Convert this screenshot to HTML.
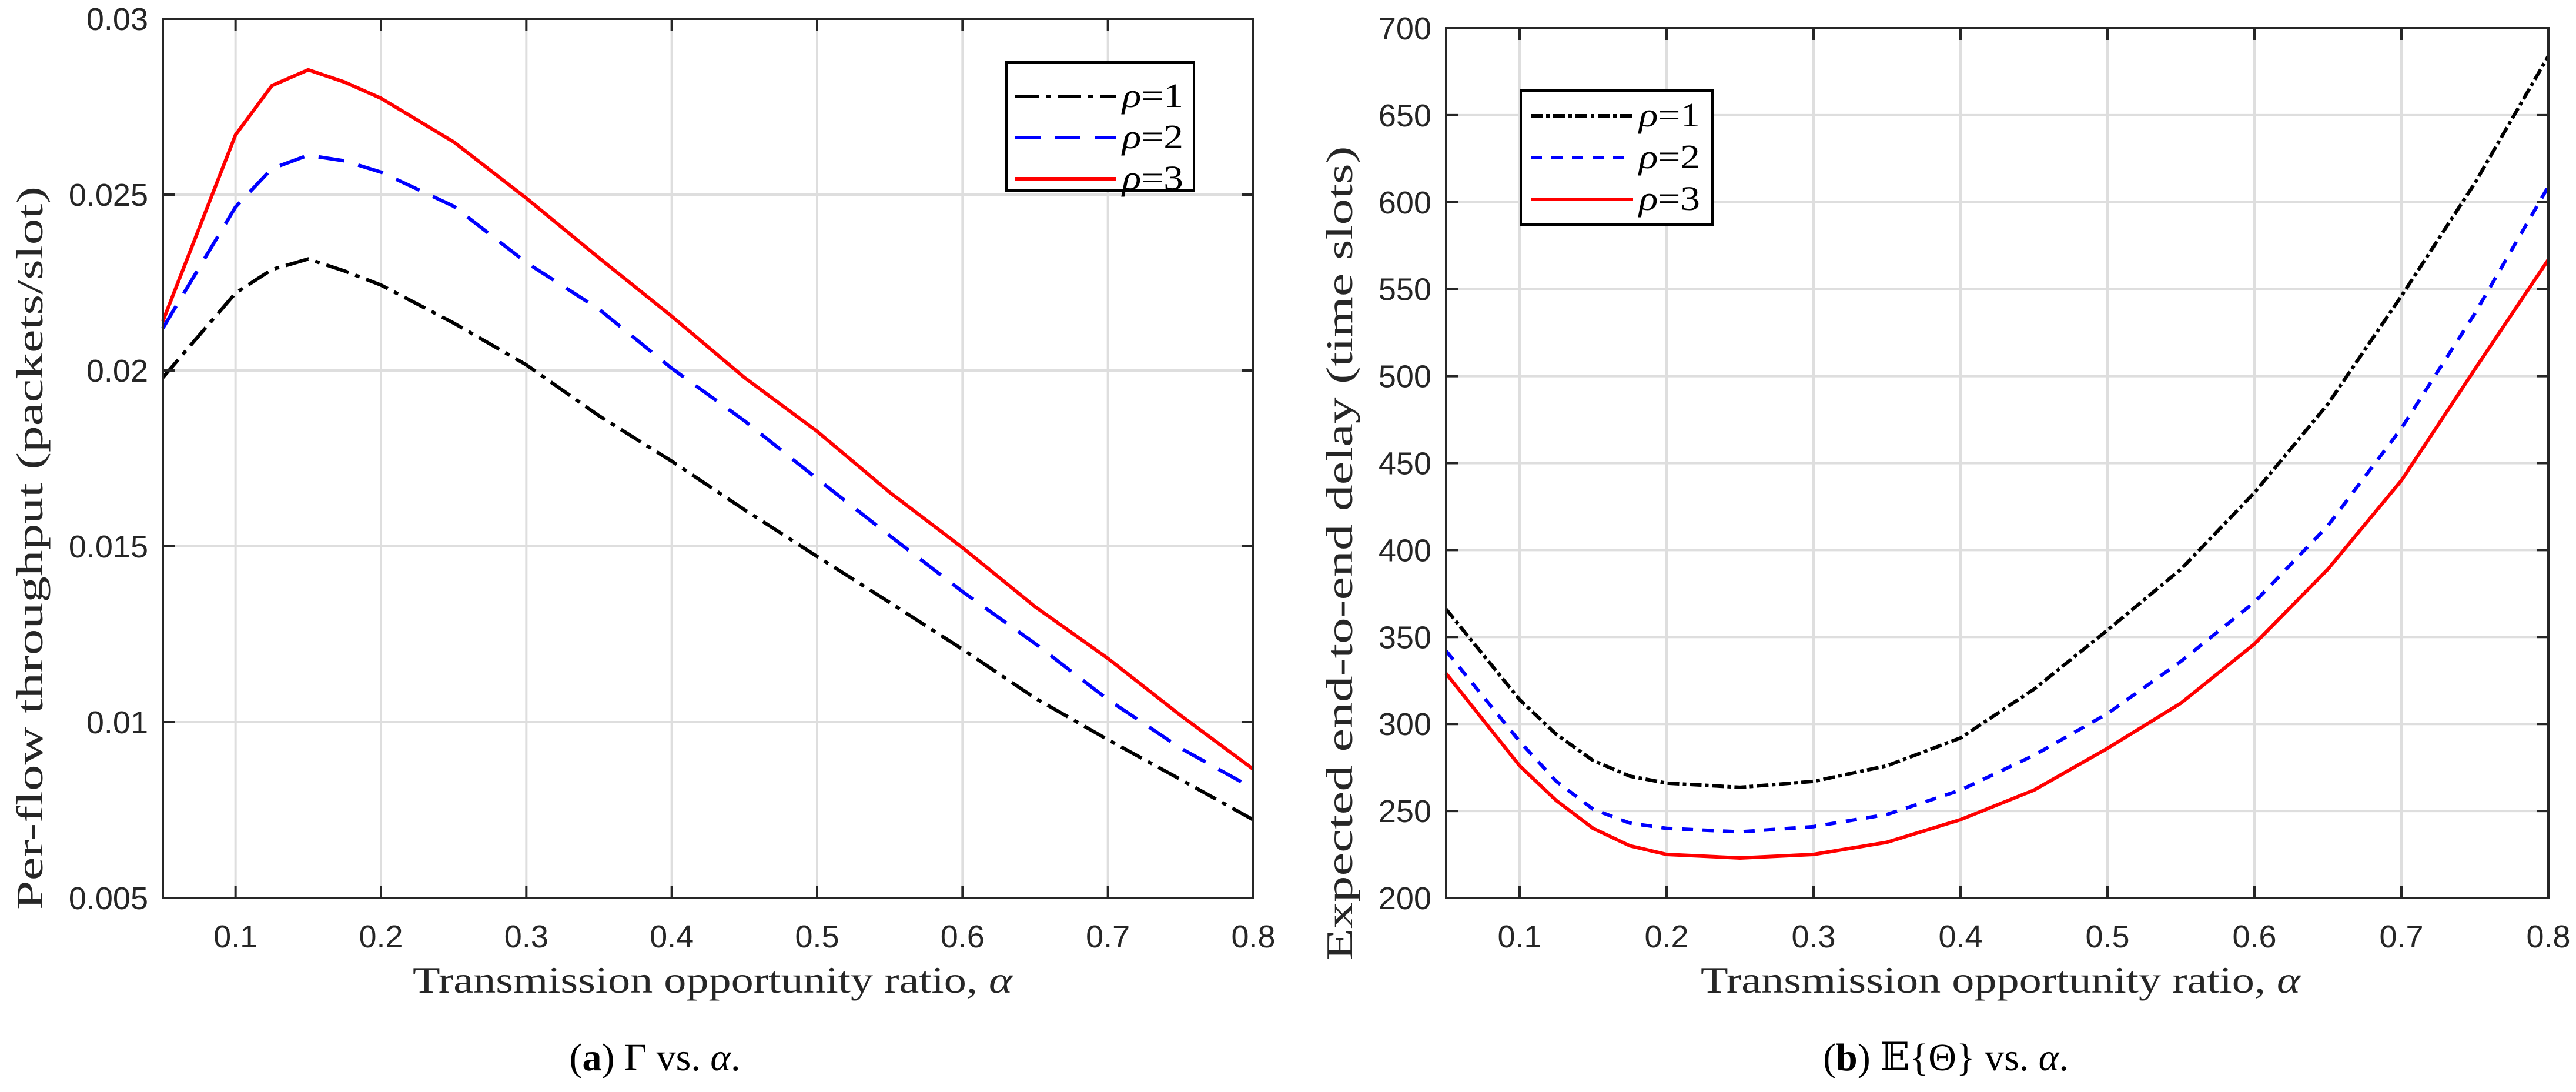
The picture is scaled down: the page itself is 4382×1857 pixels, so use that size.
<!DOCTYPE html>
<html><head><meta charset="utf-8"><style>
html,body{margin:0;padding:0;background:#fff;}
svg{display:block;}
.tick{font-family:"Liberation Sans",Arial,sans-serif;font-size:54px;fill:#262626;}
.lab{font-family:"Liberation Serif","DejaVu Serif",serif;font-size:64px;fill:#262626;}
.leg{font-family:"Liberation Serif","DejaVu Serif",serif;font-size:58px;fill:#000;}
.cap{font-family:"Liberation Serif","DejaVu Serif",serif;font-size:66px;fill:#000;}
</style></head><body>
<svg id="fig" width="4382" height="1857" viewBox="0 0 4382 1857" xmlns="http://www.w3.org/2000/svg"></svg>
<script>
const alphas = [0.05,0.1,0.125,0.15,0.175,0.2,0.25,0.3,0.35,0.4,0.45,0.5,0.55,0.6,0.65,0.7,0.75,0.8];
const thrRho1 = [0.0198,0.0222,0.02287,0.02317,0.02283,0.02243,0.02135,0.02016,0.01871,0.01742,0.01604,0.01471,0.0134,0.01207,0.01068,0.0095,0.00837,0.00722];
const thrRho2 = [0.0212,0.02465,0.02574,0.02612,0.02596,0.02564,0.02467,0.02307,0.02174,0.02006,0.01857,0.01692,0.0153,0.01371,0.01223,0.01064,0.00926,0.00811];
const thrRho3 = [0.0214,0.0267,0.0281,0.02855,0.0282,0.02774,0.0265,0.0249,0.0232,0.02154,0.0198,0.01827,0.01653,0.01496,0.01328,0.01181,0.01019,0.00866];
const delRho1 = [366,314,294,279,270,266,263.6,267,276,292,320,354,389,433,484,546,611,684];
const delRho2 = [342,290,267,251,243,240,238,241,248,262,282,306,336,370,414,470,536,609];
const delRho3 = [329,276,256,240,230,225,223,225,232,245,262,286,312,346,389,440,504,567];
const xTicks = [0.1,0.2,0.3,0.4,0.5,0.6,0.7,0.8];
const xTickLabels = ["0.1","0.2","0.3","0.4","0.5","0.6","0.7","0.8"];
const yTicksA = [0.005,0.01,0.015,0.02,0.025,0.03];
const yTickLabelsA = ["0.005","0.01","0.015","0.02","0.025","0.03"];
const yTicksB = [200,250,300,350,400,450,500,550,600,650,700];
const yTickLabelsB = ["200","250","300","350","400","450","500","550","600","650","700"];
const seriesNames = ["ρ=1","ρ=2","ρ=3"];

const NS="http://www.w3.org/2000/svg";
const svg=document.getElementById('fig');
function mk(tag,attrs,parent){const e=document.createElementNS(NS,tag);for(const k in attrs)e.setAttribute(k,attrs[k]);(parent||svg).appendChild(e);return e;}

function drawChart(cfg){
  const g=mk('g',{});
  
  
  const L=cfg.L,R=cfg.R,T=cfg.T,B=cfg.B;
  const sx=v=>L+(v-0.05)/(0.8-0.05)*(R-L);
  const sy=v=>B-(v-cfg.ymin)/(cfg.ymax-cfg.ymin)*(B-T);
  xTicks.forEach(t=>{const l=mk('line',{x1:sx(t),x2:sx(t),y1:T,y2:B,stroke:'#dedede','stroke-width':4},g);
    });
  cfg.yTicks.forEach(t=>{const l=mk('line',{x1:L,x2:R,y1:sy(t),y2:sy(t),stroke:'#dedede','stroke-width':4},g);
    });
  const styles=[{c:'#000',d:cfg.dash1},{c:'#0000ff',d:cfg.dash2},{c:'#ff0000',d:null}];
  cfg.series.forEach((s,i)=>{
    const pts=alphas.map((a,j)=>sx(a).toFixed(1)+','+sy(s[j]).toFixed(1)).join(' ');
    const p=mk('polyline',{points:pts,fill:'none',stroke:styles[i].c,'stroke-width':6,'stroke-linejoin':'round'},g);
    if(styles[i].d)p.setAttribute('stroke-dasharray',styles[i].d);
    
    
  });
  const fr=mk('rect',{x:L,y:T,width:R-L,height:B-T,fill:'none',stroke:'#262626','stroke-width':4},g);
  
  xTicks.forEach((t,i)=>{
    mk('line',{x1:sx(t),x2:sx(t),y1:B,y2:B-20,stroke:'#262626','stroke-width':4},g);
    mk('line',{x1:sx(t),x2:sx(t),y1:T,y2:T+20,stroke:'#262626','stroke-width':4},g);
    const tx=mk('text',{x:sx(t),y:1611,'text-anchor':'middle',class:'tick'},g);tx.textContent=xTickLabels[i];
    
  });
  cfg.yTicks.forEach((t,i)=>{
    mk('line',{x1:L,x2:L+20,y1:sy(t),y2:sy(t),stroke:'#262626','stroke-width':4},g);
    mk('line',{x1:R,x2:R-20,y1:sy(t),y2:sy(t),stroke:'#262626','stroke-width':4},g);
    const tx=mk('text',{x:L-25,y:sy(t)+19,'text-anchor':'end',class:'tick'},g);tx.textContent=cfg.yLabels[i];
    
  });
  const xl=mk('text',{x:cfg.xlabX,y:1688,'text-anchor':'middle',class:'lab',textLength:1020,lengthAdjust:'spacingAndGlyphs'},g);
  xl.innerHTML='Transmission opportunity ratio, <tspan font-style="italic">α</tspan>';
  
  const yl=mk('text',{x:0,y:0,'text-anchor':'middle',class:'lab',transform:`translate(${cfg.ylabX},${cfg.ylabY}) rotate(-90)`,textLength:cfg.ylabLen,lengthAdjust:'spacingAndGlyphs'},g);
  yl.textContent=cfg.ylab;
  
  const lg=mk('g',{},g);
  const lb=cfg.leg;
  mk('rect',{x:lb.x,y:lb.y,width:lb.w,height:lb.h,fill:'#fff',stroke:'#000','stroke-width':4},lg);
  const ld=[cfg.legDash1,cfg.legDash2,null];
  seriesNames.forEach((n,i)=>{
    const e=mk('g',{},lg);
    const yy=lb.y+lb.r0+i*lb.dy;
    const l=mk('line',{x1:lb.x+lb.l0,x2:lb.x+lb.l1,y1:yy,y2:yy,stroke:styles[i].c,'stroke-width':6},e);
    if(ld[i])l.setAttribute('stroke-dasharray',ld[i]);
    const t=mk('text',{x:lb.x+lb.l1+10,y:yy+18,class:'leg',textLength:104,lengthAdjust:'spacingAndGlyphs'},e);
    t.innerHTML='<tspan font-style="italic">ρ</tspan>='+(i+1);
  });
  const cp=mk('text',{x:cfg.capX,y:1820,'text-anchor':'middle',class:'cap'},g);
  cp.innerHTML=cfg.cap;
  
}

drawChart({name:'throughput-chart',L:277,R:2132,T:32,B:1527,ymin:0.005,ymax:0.03,
  yTicks:yTicksA,yLabels:yTickLabelsA,series:[thrRho1,thrRho2,thrRho3],
  dash1:'40 12 8 12',dash2:'44 25',legDash1:'40 12 8 12',legDash2:'43 25',
  xlabX:1212,ylabX:72,ylabY:932,ylabLen:1230,ylab:'Per-flow throughput (packets/slot)',
  leg:{x:1712,y:106,w:319,h:218,r0:58,dy:70,l0:15,l1:187},
  capX:1114,cap:'(<tspan font-weight="bold">a</tspan>) Γ vs. <tspan font-style="italic">α</tspan>.'});

drawChart({name:'delay-chart',L:2460,R:4335,T:48,B:1527,ymin:200,ymax:700,
  yTicks:yTicksB,yLabels:yTickLabelsB,series:[delRho1,delRho2,delRho3],
  dash1:'20 6 6 6',dash2:'19 16',legDash1:'20 6 6 6',legDash2:'19 16',
  xlabX:3403,ylabX:2300,ylabY:941,ylabLen:1385,ylab:'Expected end-to-end delay (time slots)',
  leg:{x:2587,y:154,w:326,h:228,r0:43,dy:71,l0:17,l1:191},
  capX:3310,cap:'(<tspan font-weight="bold">b</tspan>) 𝔼{Θ} vs. <tspan font-style="italic">α</tspan>.'});
</script>
</body></html>
